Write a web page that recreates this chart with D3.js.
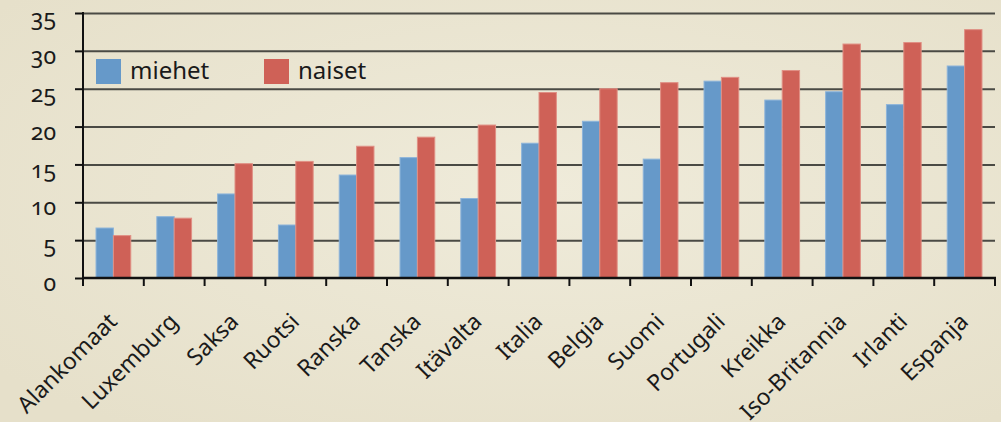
<!DOCTYPE html>
<html>
<head>
<meta charset="utf-8">
<script src="https://cdn.jsdelivr.net/npm/d3@7"></script>
<style>
  html, body { margin: 0; padding: 0; background: #e9e4cf; }
  svg { display: block; font-family: "Noto Sans", "Open Sans", sans-serif; }
  .ylab text { font-variant-numeric: oldstyle-nums; font-feature-settings: "onum" 1; }
</style>
</head>
<body>
<svg width="1001" height="422"></svg>
<script>
const countries = ["Alankomaat", "Luxemburg", "Saksa", "Ruotsi", "Ranska", "Tanska", "Itävalta",
  "Italia", "Belgia", "Suomi", "Portugali", "Kreikka", "Iso-Britannia", "Irlanti", "Espanja"];
const miehet = [6.6, 8.1, 11.1, 7.0, 13.6, 15.9, 10.5, 17.8, 20.7, 15.7, 26.0, 23.5, 24.6, 22.9, 28.0];
const naiset = [5.6, 7.9, 15.1, 15.4, 17.4, 18.6, 20.2, 24.5, 25.0, 25.8, 26.5, 27.4, 30.9, 31.1, 32.8];
const series = ["miehet", "naiset"];
const yTicks = [0, 5, 10, 15, 20, 25, 30, 35];

const colors = { miehet: "#6699c9", naiset: "#cf6157" };
const strokes = { miehet: "#8db4da", naiset: "#e08f84" };

const svg = d3.select("svg"),
  width = +svg.attr("width"),
  height = +svg.attr("height");

// subtle paper background
const defs = svg.append("defs");
const grad = defs.append("radialGradient").attr("id", "bg").attr("cx", "55%").attr("cy", "45%").attr("r", "70%");
grad.append("stop").attr("offset", "0%").attr("stop-color", "#efebda");
grad.append("stop").attr("offset", "100%").attr("stop-color", "#e6e0ca");
svg.append("rect").attr("width", width).attr("height", height).attr("fill", "url(#bg)");

const mLeft = 83, mRight = 995, mTop = 13, mBottom = 278;

const x = d3.scaleBand().domain(countries).range([mLeft, mRight]).paddingInner(0).paddingOuter(0);
const xs = d3.scaleBand().domain(series).range([0, x.bandwidth()]).paddingInner(0).paddingOuter(0.75);
const y = d3.scaleLinear().domain([0, 35]).range([mBottom, mTop]);

// gridlines
svg.append("g")
  .attr("transform", `translate(${mLeft},0)`)
  .call(d3.axisLeft(y).tickValues(yTicks.slice(1)).tickSize(-(mRight - mLeft)).tickFormat(""))
  .call(g => g.select(".domain").remove())
  .call(g => g.selectAll("line").attr("stroke", "#4a4a44").attr("stroke-width", 2));

// y axis with labels
svg.append("g")
  .attr("class", "ylab")
  .attr("transform", `translate(${mLeft},0)`)
  .call(d3.axisLeft(y).tickValues(yTicks).tickSize(8).tickPadding(19))
  .call(g => g.select(".domain").remove())
  .call(g => g.selectAll("line").attr("stroke", "#111").attr("stroke-width", 2))
  .call(g => g.selectAll("text").attr("fill", "#1a1a1a").attr("font-size", 23)
    .attr("font-family", "'Noto Sans', 'Open Sans', sans-serif")
    .attr("dy", "0.55em"));

// bars
const data = countries.map((c, i) => ({ country: c, miehet: miehet[i], naiset: naiset[i] }));
svg.append("g")
  .selectAll("g")
  .data(data)
  .join("g")
    .attr("transform", d => `translate(${x(d.country)},0)`)
  .selectAll("rect")
  .data(d => series.map(s => ({ key: s, value: d[s] })))
  .join("rect")
    .attr("x", d => xs(d.key))
    .attr("y", d => y(d.value))
    .attr("width", xs.bandwidth())
    .attr("height", d => y(0) - y(d.value))
    .attr("fill", d => colors[d.key])
    .attr("stroke", d => strokes[d.key])
    .attr("stroke-width", 1);

// x axis line and ticks
svg.append("line")
  .attr("x1", mLeft).attr("x2", mRight + 1)
  .attr("y1", y(0)).attr("y2", y(0))
  .attr("stroke", "#111").attr("stroke-width", 2.5);
svg.append("line")
  .attr("x1", mLeft).attr("x2", mLeft)
  .attr("y1", mTop - 1).attr("y2", y(0) + 8)
  .attr("stroke", "#111").attr("stroke-width", 2);
svg.append("g")
  .selectAll("line")
  .data(countries.slice(1).map(c => x(c)).concat([mRight]))
  .join("line")
    .attr("x1", d => d).attr("x2", d => d)
    .attr("y1", y(0)).attr("y2", y(0) + 8)
    .attr("stroke", "#111").attr("stroke-width", 2);

// x labels
svg.append("g")
  .selectAll("text")
  .data(countries)
  .join("text")
    .attr("transform", d => `translate(${x(d) + x.bandwidth() / 2 + 5},${y(0) + 45}) rotate(-45)`)
    .attr("text-anchor", "end")
    .attr("font-size", 23)
    .attr("fill", "#1a1a1a")
    .text(d => d);

// legend
const legend = svg.append("g")
  .selectAll("g")
  .data(series)
  .join("g")
    .attr("transform", (d, i) => `translate(${96 + i * 168},59)`);
legend.append("rect")
  .attr("width", 25).attr("height", 25)
  .attr("fill", d => colors[d]);
legend.append("text")
  .attr("x", 34).attr("y", 20)
  .attr("font-size", 24)
  .attr("fill", "#1a1a1a")
  .text(d => d);
</script>
</body>
</html>
